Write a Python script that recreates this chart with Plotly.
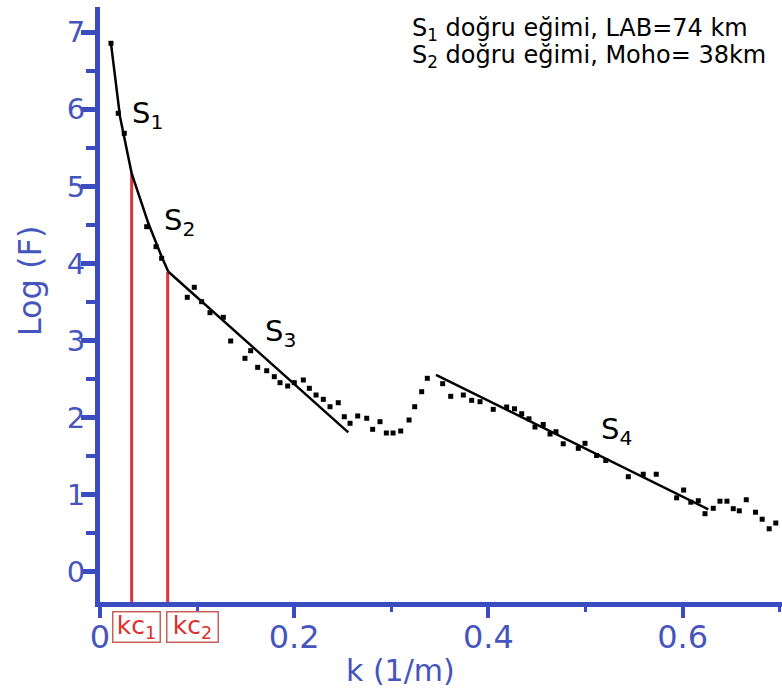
import plotly.graph_objects as go

# ---- data ----
k_pts = [0.0113, 0.0188, 0.0250, 0.0481, 0.0577, 0.0635, 0.0899, 0.0971, 0.1047, 0.1133,
         0.1270, 0.1346, 0.1493, 0.1552, 0.1624, 0.1717, 0.1795, 0.1854, 0.1933, 0.2001,
         0.2094, 0.2156, 0.2225, 0.2300, 0.2369, 0.2454, 0.2516, 0.2575, 0.2654, 0.2747,
         0.2808, 0.2884, 0.2949, 0.3018, 0.3097, 0.3183, 0.3241, 0.3313, 0.3371, 0.3529,
         0.3612, 0.3742, 0.3828, 0.3914, 0.4050, 0.4188, 0.4269, 0.4343, 0.4418, 0.4480,
         0.4565, 0.4635, 0.4696, 0.4771, 0.4926, 0.4995, 0.5115, 0.5209, 0.5441, 0.5595,
         0.5729, 0.5939, 0.6011, 0.6085, 0.6162, 0.6231, 0.6316, 0.6385, 0.6457, 0.6522,
         0.6584, 0.6656, 0.6751, 0.6820, 0.6892, 0.6960]
logF_pts = [6.857, 5.949, 5.689, 4.477, 4.218, 4.067, 3.561, 3.691, 3.504, 3.361,
            3.301, 2.994, 2.769, 2.868, 2.652, 2.608, 2.531, 2.453, 2.410, 2.453,
            2.488, 2.380, 2.293, 2.237, 2.141, 2.193, 2.011, 1.926, 2.021, 1.991,
            1.848, 1.947, 1.800, 1.800, 1.826, 1.969, 2.141, 2.336, 2.510, 2.440,
            2.276, 2.293, 2.224, 2.206, 2.107, 2.137, 2.114, 2.050, 1.984, 1.878,
            1.910, 1.787, 1.817, 1.660, 1.601, 1.666, 1.508, 1.443, 1.233, 1.265,
            1.265, 0.959, 1.060, 0.902, 0.921, 0.753, 0.823, 0.915, 0.915, 0.818,
            0.790, 0.934, 0.772, 0.681, 0.557, 0.632]

# fitted segments S1+S2 (curved), S3, S4
fit12_k = [0.0113, 0.0206, 0.0326, 0.0498, 0.0635, 0.0704]
fit12_y = [6.857, 5.905, 5.170, 4.521, 4.088, 3.893]
fit3_k = [0.0704, 0.2557]
fit3_y = [3.893, 1.809]
fit4_k = [0.3460, 0.6265]
fit4_y = [2.554, 0.810]

# cut-off wavenumbers and where they meet the curve
kc_vals = [0.0326, 0.0697]
kc_tops = [5.17, 3.89]
kc_labels = ["kc<sub>1</sub>", "kc<sub>2</sub>"]
kc_label_k = [0.0371, 0.0948]

seg_labels = ["S<sub>1</sub>", "S<sub>2</sub>", "S<sub>3</sub>", "S<sub>4</sub>"]
seg_label_k = [0.0494, 0.0814, 0.1854, 0.5324]
seg_label_y = [5.93, 4.54, 3.10, 1.83]

legend_lines = ["S<sub>1</sub> doğru eğimi, LAB=74 km",
                "S<sub>2</sub> doğru eğimi, Moho= 38km"]

x_range = [0, 0.7024]
y_range = [-0.393, 7.328]
x_ticks = [0, 0.2, 0.4, 0.6]
x_ticktext = ["0", "0.2", "0.4", "0.6"]
y_ticks = [0, 1, 2, 3, 4, 5, 6, 7]

AX = "#3b4cc0"
TXT = "#4555bd"
RED = "#dc3540"
FONT = "DejaVu Sans"

fig = go.Figure()

for kc, top in zip(kc_vals, kc_tops):
    fig.add_trace(go.Scatter(x=[kc, kc], y=[y_range[0], top], mode="lines",
                             line=dict(color=RED, width=3), showlegend=False,
                             hoverinfo="skip"))

for fx, fy in [(fit12_k, fit12_y), (fit3_k, fit3_y), (fit4_k, fit4_y)]:
    fig.add_trace(go.Scatter(x=fx, y=fy, mode="lines",
                             line=dict(color="black", width=2.5), showlegend=False))

fig.add_trace(go.Scatter(x=k_pts, y=logF_pts, mode="markers",
                         marker=dict(symbol="square", size=5, color="black",
                                     line=dict(width=0)),
                         showlegend=False))

annotations = []
for t, xk, yv in zip(seg_labels, seg_label_k, seg_label_y):
    annotations.append(dict(x=xk, y=yv, xref="x", yref="y", text=t, showarrow=False,
                            xanchor="center", yanchor="middle",
                            font=dict(family=FONT, size=29, color="black")))

for t, xk, w in zip(kc_labels, kc_label_k, [46, 50]):
    annotations.append(dict(x=xk, y=-0.042, xref="x", yref="paper", text=t,
                            showarrow=False, xanchor="center", yanchor="middle",
                            width=w, height=29, align="center", valign="middle",
                            font=dict(family=FONT, size=25, color="#e0302c"),
                            bordercolor="#c9605a", borderwidth=1.5, borderpad=0,
                            bgcolor="white"))

for t, yp in zip(legend_lines, [0.963, 0.916]):
    annotations.append(dict(x=0.4545, y=yp, xref="paper", yref="paper", text=t,
                            showarrow=False, xanchor="left", yanchor="middle",
                            font=dict(family=FONT, size=24, color="black")))

annotations.append(dict(x=-0.1026, y=0.539, xref="paper", yref="paper", text="Log (F)",
                        textangle=-90, showarrow=False, xanchor="center", yanchor="middle",
                        font=dict(family=FONT, size=32, color=TXT)))
annotations.append(dict(x=0.4413, y=-0.1143, xref="paper", yref="paper", text="k (1/m)",
                        showarrow=False, xanchor="center", yanchor="middle",
                        font=dict(family=FONT, size=30, color=TXT)))

fig.update_layout(
    width=782, height=695,
    margin=dict(l=100, r=0, t=7, b=93),
    plot_bgcolor="white", paper_bgcolor="white",
    annotations=annotations,
    xaxis=dict(range=x_range, showgrid=False, zeroline=False,
               showline=True, linecolor=AX, linewidth=5,
               ticks="outside", ticklen=11, tickwidth=4, tickcolor=AX,
               tickvals=x_ticks, ticktext=x_ticktext, ticklabelstandoff=-8,
               tickfont=dict(family=FONT, size=32, color=TXT),
               minor=dict(dtick=0.1, ticklen=5, tickwidth=3, tickcolor=AX,
                          ticks="outside", showgrid=False)),
    yaxis=dict(range=y_range, showgrid=False, zeroline=False,
               showline=True, linecolor=AX, linewidth=5,
               ticks="outside", ticklen=14, tickwidth=5, tickcolor=AX,
               tickvals=y_ticks, ticklabelstandoff=-10,
               tickfont=dict(family=FONT, size=29, color=TXT),
               minor=dict(dtick=0.5, ticklen=9, tickwidth=4, tickcolor=AX,
                          ticks="outside", showgrid=False)),
)

fig.write_html("out.html", config={"displayModeBar": False},
               post_script="document.body.style.margin='0';"
                           "document.body.style.overflow='hidden';")
